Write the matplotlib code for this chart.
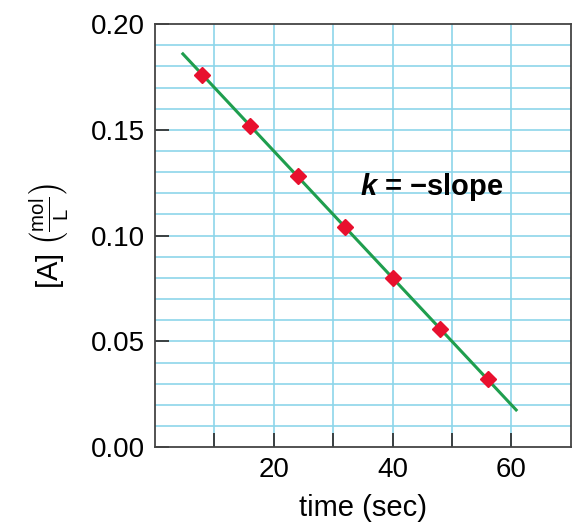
import numpy as np
import matplotlib.pyplot as plt

plt.rcParams['font.family'] = ['Liberation Sans', 'DejaVu Sans']
plt.rcParams['mathtext.fontset'] = 'custom'
plt.rcParams['mathtext.rm'] = 'Liberation Sans'
plt.rcParams['mathtext.it'] = 'Liberation Sans:italic'
plt.rcParams['mathtext.bf'] = 'Liberation Sans:bold'
plt.rcParams['mathtext.bfit'] = 'Liberation Sans:italic:bold'

# data
time = [8, 16, 24, 32, 40, 48, 56]
conc = [0.176, 0.152, 0.128, 0.104, 0.080, 0.056, 0.032]
fit_range = [4.7, 60.8]
xticks = [10, 20, 30, 40, 50, 60]
xlabels = ['', '20', '', '40', '', '60']
yticks = [0.00, 0.05, 0.10, 0.15, 0.20]

grid_c = '#8dd5ea'

fig = plt.figure(figsize=(5.76, 5.23), dpi=100)
ax = fig.add_axes([0.269, 0.145, 0.722, 0.809])

# light grid, every 10 s and every 0.01 mol/L
for gx in np.arange(10, 70, 10):
    ax.axvline(gx, color=grid_c, lw=1.2, zorder=0)
for gy in np.arange(0.01, 0.20, 0.01):
    ax.axhline(gy, color=grid_c, lw=1.2, zorder=0)

slope, icept = np.polyfit(time, conc, 1)
lx = np.array(fit_range)
ax.plot(lx, slope * lx + icept, color='#1f9e4e', lw=2.2, zorder=2)
ax.plot(time, conc, 'D', color='#e8102e', ms=8, mec='#e8102e', zorder=3)

ax.text(34.5, 0.123, r'$\mathbfit{k}$ = ' + '\u2212slope', fontsize=21,
        fontweight='bold', ha='left', va='center')

ax.set_xlim(0, 70)
ax.set_ylim(0, 0.20)
ax.set_xticks(xticks)
ax.set_xticklabels(xlabels)
ax.set_yticks(yticks)
ax.set_yticklabels(['%.2f' % v for v in yticks])
ax.tick_params(direction='in', length=10, width=1.3, color='#333333',
               labelsize=20, pad=7)
for s in ax.spines.values():
    s.set_color('#444444')
    s.set_linewidth(1.3)

ax.set_xlabel('time (sec)', fontsize=21, labelpad=8)
ax.set_ylabel(r'[A] $\left(\frac{\mathrm{mol}}{\mathrm{L}}\right)$', fontsize=21, labelpad=15)

fig.savefig('out.png', dpi=100)
